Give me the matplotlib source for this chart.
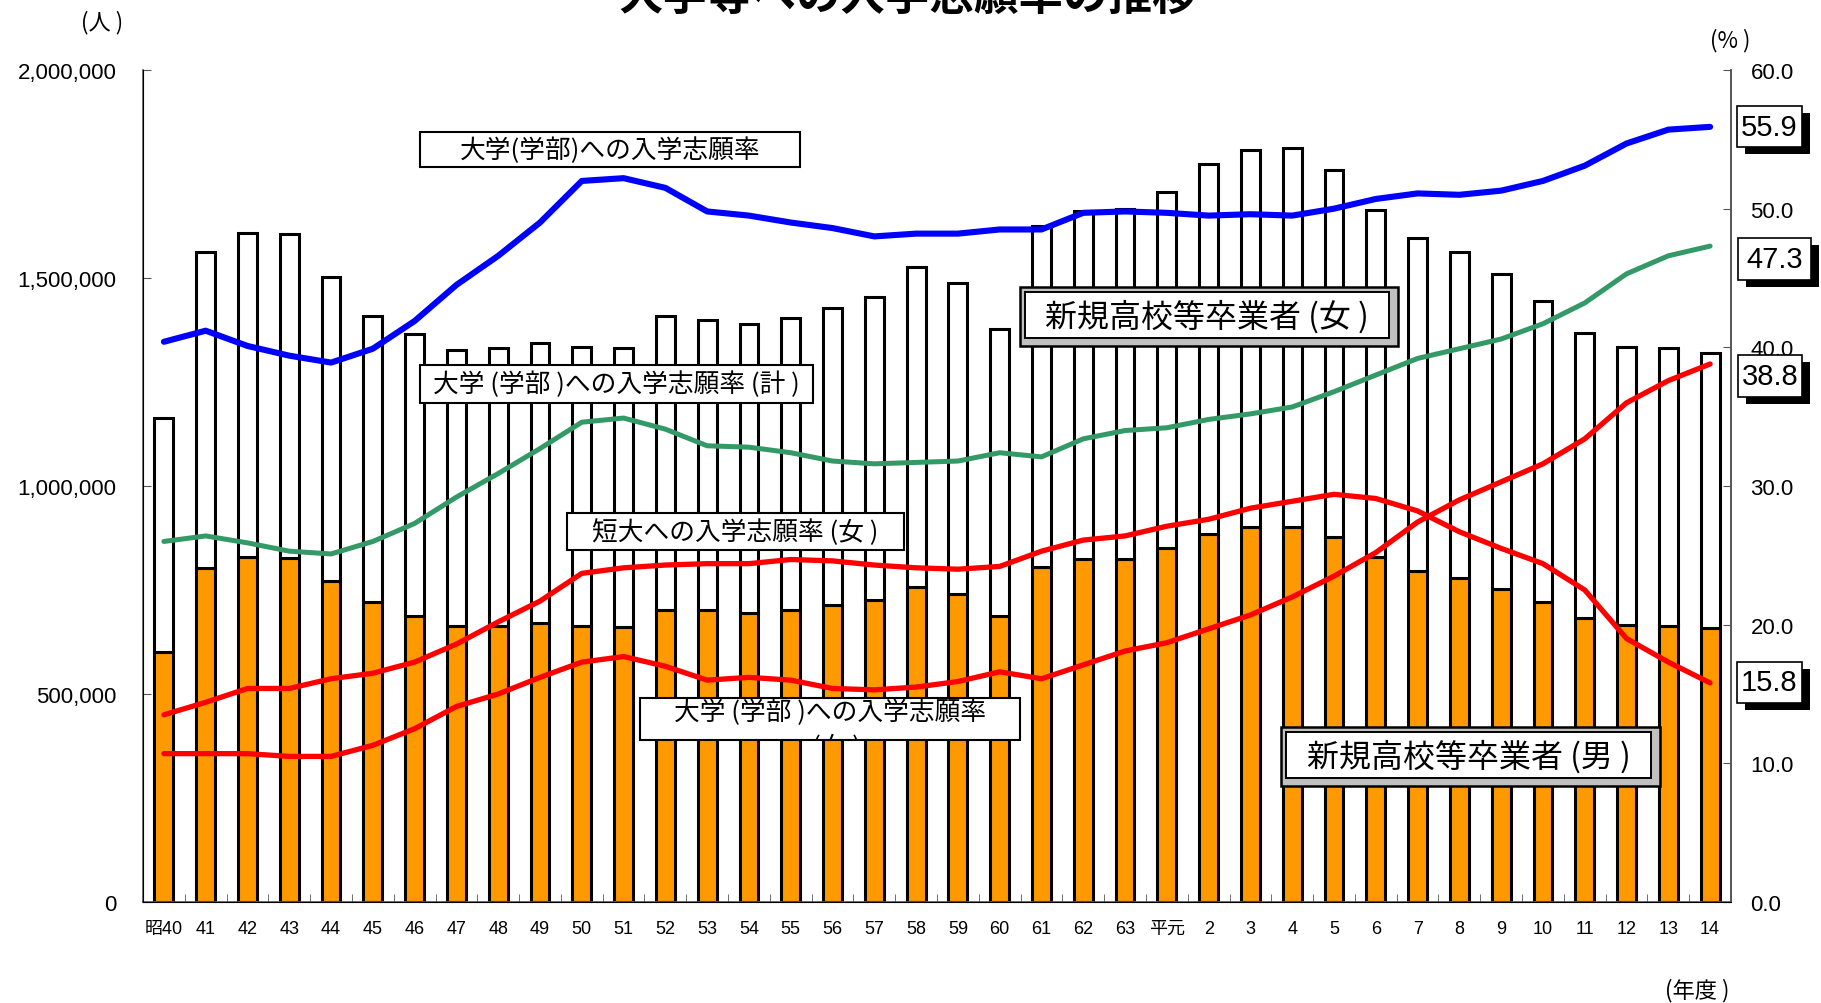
import matplotlib.pyplot as plt
import numpy as np
from matplotlib.patches import Rectangle
from matplotlib.transforms import Bbox, TransformedBbox

plt.rcParams['font.family'] = ['Liberation Sans Narrow', 'Liberation Sans', 'Noto Sans CJK JP']
CJK = ['Noto Sans CJK JP', 'DejaVu Sans']

# data
years = ['昭40', '41', '42', '43', '44', '45', '46', '47', '48', '49', '50', '51',
         '52', '53', '54', '55', '56', '57', '58', '59', '60', '61', '62', '63',
         '平元', '2', '3', '4', '5', '6', '7', '8', '9', '10', '11', '12', '13', '14']

# 新規高校等卒業者 (thousands)
male = [602, 804, 830, 826, 772, 720, 688, 664, 664, 670, 664, 662,
        703, 702, 694, 703, 714, 726, 757, 741, 688, 806, 825, 825,
        850, 885, 902, 902, 877, 829, 795, 778, 752, 722, 682, 666, 664, 659]
female = [561, 758, 778, 780, 731, 689, 677, 663, 668, 673, 669, 669,
          706, 698, 695, 701, 714, 728, 769, 746, 689, 820, 835, 841,
          856, 889, 906, 910, 883, 835, 801, 784, 757, 723, 686, 667, 667, 661]

# 入学志願率 (%)
univ_male = [40.4, 41.2, 40.1, 39.4, 38.9, 39.9, 41.9, 44.5, 46.6, 49.0, 52.0, 52.2,
             51.5, 49.8, 49.5, 49.0, 48.6, 48.0, 48.2, 48.2, 48.5, 48.5, 49.7, 49.8,
             49.7, 49.5, 49.6, 49.5, 50.0, 50.7, 51.1, 51.0, 51.3, 52.0, 53.1, 54.7, 55.7, 55.9]
univ_total = [26.0, 26.4, 25.9, 25.3, 25.1, 26.0, 27.3, 29.2, 30.9, 32.7, 34.6, 34.9,
              34.1, 32.9, 32.8, 32.4, 31.8, 31.6, 31.7, 31.8, 32.4, 32.1, 33.4, 34.0,
              34.2, 34.8, 35.2, 35.7, 36.8, 38.0, 39.2, 39.9, 40.6, 41.7, 43.2, 45.3, 46.6, 47.3]
junior_female = [13.5, 14.4, 15.4, 15.4, 16.1, 16.5, 17.3, 18.6, 20.2, 21.7, 23.7, 24.1,
                 24.3, 24.4, 24.4, 24.7, 24.6, 24.3, 24.1, 24.0, 24.2, 25.3, 26.1, 26.4,
                 27.1, 27.6, 28.4, 28.9, 29.4, 29.1, 28.2, 26.7, 25.5, 24.4, 22.5, 19.0, 17.3, 15.8]
univ_female = [10.7, 10.7, 10.7, 10.5, 10.5, 11.3, 12.5, 14.1, 15.0, 16.2, 17.3, 17.7,
               17.0, 16.0, 16.2, 16.0, 15.4, 15.3, 15.5, 15.9, 16.6, 16.1, 17.1, 18.1,
               18.7, 19.7, 20.7, 22.0, 23.5, 25.2, 27.4, 29.0, 30.3, 31.6, 33.4, 36.0, 37.6, 38.8]

W, H = 1821, 1004
fig = plt.figure(figsize=(W / 100, H / 100), dpi=100)
ax = fig.add_axes([143 / W, 101 / H, (1731 - 143) / W, (903 - 71) / H])

x = np.arange(len(years))
male_n = np.array(male) * 1000
female_n = np.array(female) * 1000
ax.bar(x, male_n, width=0.45, color='#FF9900', edgecolor='black', linewidth=2.2)
ax.bar(x, female_n, bottom=male_n, width=0.45, color='white', edgecolor='black', linewidth=2.2)

ax.set_xlim(-0.5, len(years) - 0.5)
ax.set_ylim(0, 2000000)
ax.set_yticks(range(0, 2000001, 500000))
ax.set_yticklabels([f'{v:,}' for v in range(0, 2000001, 500000)], fontsize=16)
ax.tick_params(axis='y', direction='in', length=6, pad=19, color='#555555')
ax.set_xticks(x)
ax.set_xticklabels(years, fontsize=13)
ax.tick_params(axis='x', which='major', length=0, pad=13)
ax.set_xticks(np.arange(-0.5, len(years), 1), minor=True)
ax.tick_params(axis='x', which='minor', direction='in', length=6, color='#555555')
for s in ['left', 'bottom', 'right']:
    ax.spines[s].set_color('#555555')
    ax.spines[s].set_linewidth(1.2)
ax.spines['top'].set_visible(False)

ax2 = ax.twinx()
ax2.set_ylim(0, 60)
ax2.set_yticks(range(0, 61, 10))
ax2.set_yticklabels([f'{v:.1f}' for v in range(0, 61, 10)], fontsize=16)
ax2.tick_params(axis='y', direction='in', length=6, pad=14, color='#555555')
ax2.spines['top'].set_visible(False)
ax2.spines['right'].set_color('#555555')
ax2.spines['right'].set_linewidth(1.2)

kw = dict(solid_capstyle='round', solid_joinstyle='round')
ax2.plot(x, univ_male, color='#0000FF', lw=4.4, **kw)
ax2.plot(x, univ_total, color='#339966', lw=3.6, **kw)
ax2.plot(x, junior_female, color='#FF0000', lw=3.8, **kw)
ax2.plot(x, univ_female, color='#FF0000', lw=3.8, **kw)


def fx(px):
    return px / W


def fy(py):
    return 1 - py / H


def rect(x0, y0, x1, y1, face='white', lw=1.5, z=10):
    r = Rectangle((fx(x0), fy(y1)), (x1 - x0) / W, (y1 - y0) / H, transform=fig.transFigure,
                  facecolor=face, edgecolor='black', linewidth=lw, zorder=z)
    fig.add_artist(r)


def label_box(x0, y0, x1, y1, s, size=18.5):
    rect(x0, y0, x1, y1)
    fig.text(fx((x0 + x1) / 2), fy((y0 + y1) / 2), s, ha='center', va='center',
             fontsize=size, family=CJK, zorder=12)


def bevel_box(x0, y0, x1, y1, s):
    rect(x0, y0, x1, y1, face='#C0C0C0', lw=1.8)
    rect(x0 + 5, y0 + 5, x1 - 9, y1 - 8, lw=1.4, z=11)
    fig.text(fx((x0 + x1) / 2 - 2), fy((y0 + y1) / 2 - 1), s, ha='center', va='center',
             fontsize=23, family=CJK, zorder=12)


def value_box(x0, y0, x1, y1, s):
    rect(x0 + 8, y0 + 7, x1 + 8, y1 + 7, face='black', lw=0)
    rect(x0, y0, x1, y1, lw=1.2, z=11)
    fig.text(fx((x0 + x1) / 2), fy((y0 + y1) / 2), s, ha='center', va='center',
             fontsize=21, zorder=12)


# title and unit labels
fig.text(fx(908), fy(-3), '大学等への入学志願率の推移', ha='center', va='center',
         fontsize=32, fontweight='bold', family=CJK)
fig.text(fx(102), fy(23), '(人 )', ha='center', va='center', fontsize=16, family=CJK)
fig.text(fx(1730), fy(41), '(% )', ha='center', va='center', fontsize=16, family=CJK)
fig.text(fx(1697), fy(991), '(年度 )', ha='center', va='center', fontsize=16, family=CJK)

# series labels
label_box(420, 133, 800, 168, '大学(学部)への入学志願率')
label_box(420, 366, 813, 404, '大学 (学部 )への入学志願率 (計 )')
label_box(567, 514, 904, 551, '短大への入学志願率 (女 )')
rect(640, 699, 1020, 741)
fig.text(fx(830), fy(713), '大学 (学部 )への入学志願率', ha='center', va='center',
         fontsize=18.5, family=CJK, zorder=12)
t = fig.text(fx(836), fy(748), '(女 )', ha='center', va='center', fontsize=18.5, family=CJK, zorder=12)
t.set_clip_box(TransformedBbox(Bbox([[fx(640), fy(741)], [fx(1020), fy(699)]]), fig.transFigure))
t.set_clip_on(True)

bevel_box(1020, 288, 1398, 347, '新規高校等卒業者 (女 )')
bevel_box(1281, 728, 1660, 787, '新規高校等卒業者 (男 )')

value_box(1737, 107, 1802, 148, f'{univ_male[-1]:.1f}')
value_box(1738, 239, 1811, 281, f'{univ_total[-1]:.1f}')
value_box(1738, 356, 1802, 398, f'{univ_female[-1]:.1f}')
value_box(1737, 663, 1802, 704, f'{junior_female[-1]:.1f}')

fig.savefig('out.png', dpi=100)
